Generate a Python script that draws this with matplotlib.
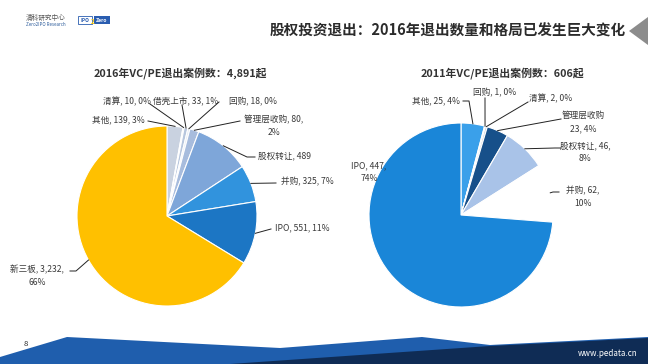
import numpy as np
import matplotlib
matplotlib.use("Agg")
import matplotlib.pyplot as plt
from matplotlib.patches import Polygon, Rectangle

plt.rcParams['font.family'] = ['Noto Sans CJK SC', 'DejaVu Sans']

# ---------------- data ----------------
main_title = "股权投资退出：2016年退出数量和格局已发生巨大变化"

title_2016 = "2016年VC/PE退出案例数：4,891起"
cats_2016 = ["其他", "清算", "借壳上市", "回购", "管理层收购", "股权转让", "并购", "IPO", "新三板"]
vals_2016 = [139, 10, 33, 18, 80, 489, 325, 551, 3232]
labels_2016 = ["其他, 139, 3%", "清算, 10, 0%", "借壳上市, 33, 1%", "回购, 18, 0%",
               "管理层收购, 80,\n2%", "股权转让, 489", "并购, 325, 7%", "IPO, 551, 11%",
               "新三板, 3,232,\n66%"]

title_2011 = "2011年VC/PE退出案例数：606起"
cats_2011 = ["其他", "回购", "清算", "管理层收购", "股权转让", "并购", "IPO"]
vals_2011 = [25, 1, 2, 23, 46, 62, 447]
labels_2011 = ["其他, 25, 4%", "回购, 1, 0%", "清算, 2, 0%", "管理层收购\n23, 4%",
               "股权转让, 46,\n8%", "并购, 62,\n10%", "IPO, 447,\n74%"]

# ---------------- styles ----------------
colors_2016 = ["#C9D2E0", "#F2F4F8", "#B7C6DD", "#E4E9F1", "#A7BCDD", "#7EA6D9",
               "#3193DD", "#1C76C4", "#FFC000"]
colors_2011 = ["#3AA0EA", "#9AA6B4", "#C4CCD6", "#17508A", "#A9C3E8", "#FFFFFF", "#1A86D8"]

W, H = 648, 364
fig = plt.figure(figsize=(W / 100, H / 100), dpi=100)
ax = fig.add_axes([0, 0, 1, 1])


def Y(y):
    return H - y


text_col = "#3a3a3a"
lab_fs = 6.2

# pie geometry (image pixel coords)
c16, r16 = (167, 216), 90
c11, r11 = (461, 215), 92

w16, _ = ax.pie(vals_2016, center=(c16[0], Y(c16[1])), radius=r16, startangle=90,
                counterclock=False, colors=colors_2016,
                wedgeprops=dict(edgecolor="white", linewidth=0.8))
w11, _ = ax.pie(vals_2011, center=(c11[0], Y(c11[1])), radius=r11, startangle=90,
                counterclock=False, colors=colors_2011,
                wedgeprops=dict(edgecolor="white", linewidth=0.8))

# label layout: (text x, y, anchor x, y, stub dx, halign)
lay16 = [
    (118, 120, 148, 121, 0, "center"),
    (151, 102, 150, 104, 0, "right"),
    (153, 102, 182, 105, 0, "left"),
    (253, 102, 219, 102, 0, "center"),
    (274, 126, 240, 121, 0, "center"),
    (284, 156, 255, 157, -8, "center"),
    (307, 182, 276, 183, 0, "center"),
    (302, 228, 271, 229, 0, "center"),
    (37, 276, 70, 271, 6, "center"),
]
lay11 = [
    (436, 101, 463, 101, 6, "center"),
    (495, 93, 485, 98, 0, "center"),
    (551, 99, 528, 102, 0, "center"),
    (583, 122, 561, 119, 0, "center"),
    (585, 152, 561, 148, -6, "center"),
    (583, 197, 559, 192, -6, "center"),
    (369, 172, None, None, 0, "center"),
]


def draw_labels(wedges, labels, lay, center, r):
    for wdg, lab, (tx, ty, axx, ayy, stub, ha) in zip(wedges, labels, lay):
        ax.text(tx, Y(ty), lab, ha=ha, va="center", fontsize=lab_fs, color=text_col,
                linespacing=1.6, multialignment="center", zorder=5)
        if axx is None:
            continue
        mid = np.deg2rad((wdg.theta1 + wdg.theta2) / 2)
        ex = center[0] + r * np.cos(mid)
        ey = Y(center[1]) + r * np.sin(mid)
        xs = [axx, axx + stub, ex]
        ys = [Y(ayy), Y(ayy), ey]
        ax.plot(xs, ys, color="#222222", lw=0.7, zorder=4)


draw_labels(w16, labels_2016, lay16, c16, r16)
draw_labels(w11, labels_2011, lay11, c11, r11)

# pie titles
ax.text(180, Y(73), title_2016, ha="center", va="center", fontsize=7.8,
        fontweight="bold", color="#333333")
ax.text(502, Y(73), title_2011, ha="center", va="center", fontsize=7.8,
        fontweight="bold", color="#333333")

# header
ax.add_patch(Polygon([(629, Y(31)), (648, Y(17)), (648, Y(45))], closed=True,
                     facecolor="#8C8C8C", edgecolor="none"))
ax.text(626, Y(31), main_title, ha="right", va="center", fontsize=10.5,
        fontweight="bold", color="#2b2b2b")

# logo
ax.text(46, Y(18), "清科研究中心", ha="center", va="center", fontsize=4.8, color="#555555")
ax.text(46, Y(25), "Zero2IPO Research", ha="center", va="center", fontsize=3.2,
        color="#2a5a9a")
ax.add_patch(Rectangle((78, Y(24)), 14, 8, facecolor="white", edgecolor="#2a5db0", lw=0.6))
ax.text(85, Y(20), "IPO", ha="center", va="center", fontsize=3.6, color="#2a5db0",
        fontweight="bold")
ax.add_patch(Rectangle((94, Y(24)), 16, 8, facecolor="#2a5db0", edgecolor="none"))
ax.text(102, Y(20), "Zero", ha="center", va="center", fontsize=3.6, color="white",
        fontweight="bold", fontstyle="italic")
ax.text(93, Y(21), "2", ha="center", va="center", fontsize=4.5, color="#F2C200",
        fontweight="bold")

# bottom band
ax.add_patch(Polygon([(0, Y(357)), (67, Y(337)), (280, Y(348)), (422, Y(337)),
                      (490, Y(345)), (648, Y(337)), (648, Y(364)), (0, Y(364))],
                     closed=True, facecolor="#1F5EAD", edgecolor="none"))
ax.add_patch(Polygon([(230, Y(364)), (490, Y(346)), (648, Y(338)), (648, Y(364))],
                     closed=True, facecolor="#0F2C55", edgecolor="none"))
ax.text(26, Y(344), "8", ha="center", va="center", fontsize=5.5, color="#222222")
ax.text(608, Y(353), "www.pedata.cn", ha="center", va="center", fontsize=5.8,
        color="white")

ax.set_xlim(0, W)
ax.set_ylim(0, H)
ax.set_aspect("auto")
ax.axis("off")

fig.savefig("out.png", dpi=100, facecolor="white")
